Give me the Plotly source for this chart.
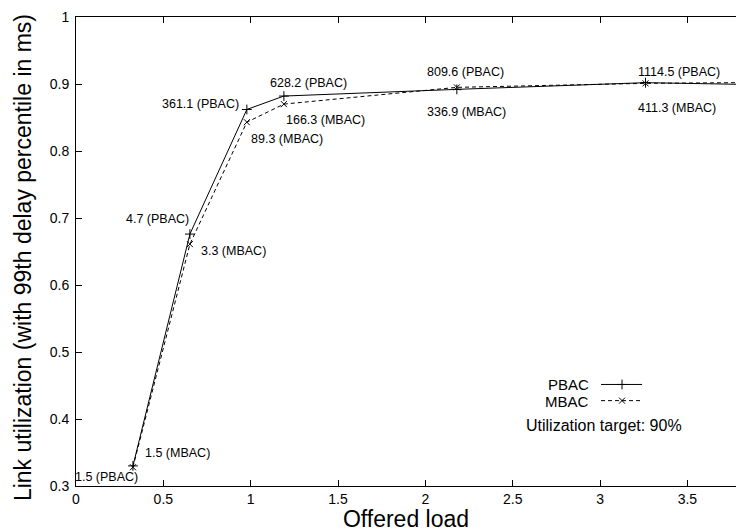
import plotly.graph_objects as go

# Offered load values and measured link utilization
offered_load = [0.326, 0.652, 0.978, 1.19, 2.18, 3.26, 4.35]
util_pbac = [0.330, 0.676, 0.862, 0.882, 0.892, 0.902, 0.897]
util_mbac = [0.328, 0.661, 0.843, 0.870, 0.895, 0.901, 0.903]

# 99th percentile delay (ms) at each visible operating point
delay_pbac = ["1.5", "4.7", "361.1", "628.2", "809.6", "1114.5"]
delay_mbac = ["1.5", "3.3", "89.3", "166.3", "336.9", "411.3"]

x_ticks = [0, 0.5, 1, 1.5, 2, 2.5, 3, 3.5]
x_tick_text = ["0", "0.5", "1", "1.5", "2", "2.5", "3", "3.5"]
y_ticks = [0.3, 0.4, 0.5, 0.6, 0.7, 0.8, 0.9, 1.0]
y_tick_text = ["0.3", "0.4", "0.5", "0.6", "0.7", "0.8", "0.9", "1"]

FONT = "Liberation Sans, Arial, Helvetica, sans-serif"

# label placement (anchor, x shift px, y shift px) for each point
pbac_label_pos = [("right", 7, -11), ("right", 1, 15), ("right", -6, 5),
                  ("left", -16, 13), ("left", -32, 17), ("left", -10, 11)]
mbac_label_pos = [("left", 10, 14), ("left", 9, -7), ("left", 2, -17),
                  ("left", 0, -16), ("left", -32, -25), ("left", -10, -25)]

PLUS_SIZE = 7
CROSS_SIZE = 6

fig = go.Figure()

fig.add_trace(go.Scatter(
    x=offered_load, y=util_pbac, mode="lines+markers", name="PBAC",
    line=dict(color="black", width=1),
    marker=dict(symbol="cross-thin", size=PLUS_SIZE, line=dict(color="black", width=1)),
    showlegend=False,
))
fig.add_trace(go.Scatter(
    x=offered_load, y=util_mbac, mode="lines+markers", name="MBAC",
    line=dict(color="black", width=1, dash="4px,3px"),
    marker=dict(symbol="x-thin", size=CROSS_SIZE, line=dict(color="black", width=1)),
    showlegend=False,
))

annotations = []
for i, d in enumerate(delay_pbac):
    anchor, dx, dy = pbac_label_pos[i]
    annotations.append(dict(
        x=offered_load[i], y=util_pbac[i], xref="x", yref="y",
        text=f"{d} (PBAC)", showarrow=False, xanchor=anchor, yanchor="middle",
        xshift=dx, yshift=dy, font=dict(family=FONT, size=12.5, color="black"),
    ))
for i, d in enumerate(delay_mbac):
    anchor, dx, dy = mbac_label_pos[i]
    annotations.append(dict(
        x=offered_load[i], y=util_mbac[i], xref="x", yref="y",
        text=f"{d} (MBAC)", showarrow=False, xanchor=anchor, yanchor="middle",
        xshift=dx, yshift=dy, font=dict(family=FONT, size=12.5, color="black"),
    ))

# key: names on the left, line samples on the right
key_names = ["PBAC", "MBAC"]
key_y = [0.2165, 0.1820]
key_dash = ["solid", "4px,3px"]
key_symbol = ["cross-thin", "x-thin"]
for name, ky, dash, sym in zip(key_names, key_y, key_dash, key_symbol):
    annotations.append(dict(
        x=0.7788, y=ky, xref="paper", yref="paper", text=name, showarrow=False,
        xanchor="right", yanchor="middle", height=14, borderpad=0,
        font=dict(family=FONT, size=15, color="black"),
    ))
    fig.add_trace(go.Scatter(
        x=[0.7955, 0.8273, 0.8576], y=[ky, ky, ky], xaxis="x2", yaxis="y2",
        mode="lines", line=dict(color="black", width=1, dash=dash),
        showlegend=False, hoverinfo="skip",
    ))
    fig.add_trace(go.Scatter(
        x=[0.8273], y=[ky], xaxis="x2", yaxis="y2", mode="markers",
        marker=dict(symbol=sym, size=PLUS_SIZE if sym == "cross-thin" else CROSS_SIZE,
                    line=dict(color="black", width=1)),
        showlegend=False, hoverinfo="skip",
    ))

annotations.append(dict(
    x=0.6788, y=0.128, xref="paper", yref="paper",
    text="Utilization target: 90%", showarrow=False,
    xanchor="left", yanchor="middle",
    font=dict(family=FONT, size=16, color="black"),
))

# vertical axis title, placed in the left margin
annotations.append(dict(
    x=-0.0803, y=0.486, xref="paper", yref="paper",
    text="Link utilization (with 99th delay percentile in ms)", textangle=-90,
    showarrow=False, xanchor="center", yanchor="middle",
    font=dict(family=FONT, size=23, color="black"),
))

fig.update_layout(
    width=736, height=532,
    margin=dict(l=76, r=0, t=17, b=46),
    paper_bgcolor="white", plot_bgcolor="white",
    font=dict(family=FONT, color="black"),
    annotations=annotations,
    xaxis=dict(
        range=[0, 3.778], tickvals=x_ticks, ticktext=x_tick_text,
        ticks="inside", ticklen=6, tickcolor="black", tickwidth=1,
        showline=True, linecolor="black", linewidth=1, mirror="ticks",
        showgrid=False, zeroline=False,
        tickfont=dict(family=FONT, size=14, color="black"),
        title=dict(text="Offered load", font=dict(family=FONT, size=23, color="black"),
                   standoff=0),
        automargin=False,
    ),
    yaxis=dict(
        range=[0.3, 1.0], tickvals=y_ticks, ticktext=y_tick_text,
        ticks="inside", ticklen=6, tickcolor="black", tickwidth=1,
        showline=True, linecolor="black", linewidth=1,
        showgrid=False, zeroline=False, ticklabelstandoff=3,
        tickfont=dict(family=FONT, size=14, color="black"),
        automargin=False,
    ),
    xaxis2=dict(range=[0, 1], overlaying="x", visible=False, fixedrange=True),
    yaxis2=dict(range=[0, 1], overlaying="y", visible=False, fixedrange=True),
)

fig.write_html("out.html")
